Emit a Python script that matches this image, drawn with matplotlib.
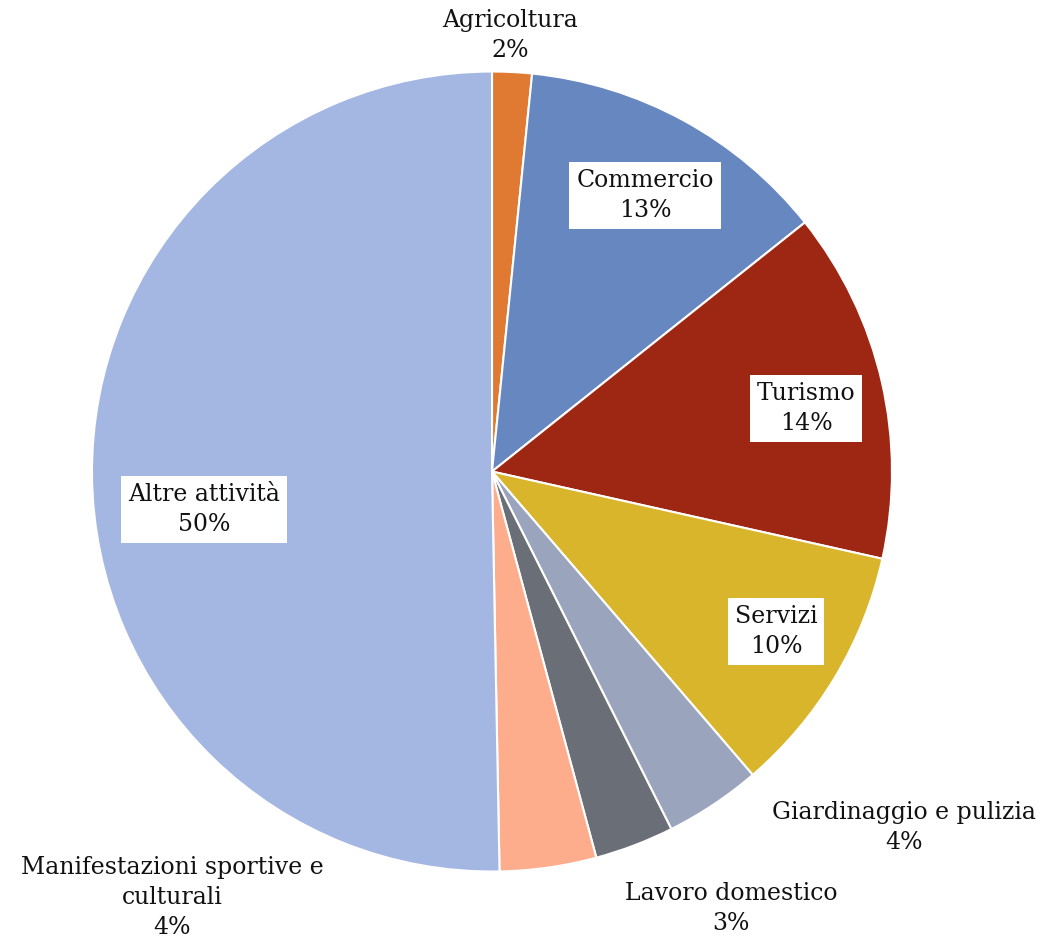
import matplotlib
matplotlib.use("Agg")
import matplotlib.pyplot as plt

# slice data, clockwise from 12 o'clock
categories = ["Agricoltura", "Commercio", "Turismo", "Servizi",
              "Giardinaggio e pulizia", "Lavoro domestico",
              "Manifestazioni sportive e\nculturali", "Altre attività"]
shares = [1.6, 12.7, 14.2, 10.2, 3.9, 3.2, 3.9, 50.3]
colors = ["#E07A32", "#6787C0", "#9E2714", "#D9B52B",
          "#9BA4BD", "#6A6E76", "#FDAD8C", "#A4B6E2"]

# label anchor points (data units, pie radius = 1) and whether boxed
label_pos = [(0.045, 1.09), (0.383, 0.69), (0.785, 0.158), (0.71, -0.40),
             (1.03, -0.89), (0.5975, -1.0925), (-0.80, -1.065), (-0.72, -0.095)]
boxed = [False, True, True, True, False, False, False, True]

plt.rcParams["font.family"] = ["DejaVu Serif"]

fig = plt.figure(figsize=(10.43, 9.42), dpi=100)
ax = fig.add_axes([0, 0, 1, 1])
ax.pie(shares, colors=colors, startangle=90, counterclock=False,
       radius=1.0, wedgeprops=dict(edgecolor="white", linewidth=1.5))
ax.set_xlim(-1.23, 1.3775)
ax.set_ylim(-1.1762, 1.1788)
ax.set_aspect("auto")
ax.axis("off")

total = sum(shares)
for cat, v, (x, y), b in zip(categories, shares, label_pos, boxed):
    txt = f"{cat}\n{v / total * 100:.0f}%"
    kw = {}
    if b:
        kw["bbox"] = dict(boxstyle="square,pad=0.3", fc="white", ec="none")
    ax.text(x, y, txt, ha="center", va="center", fontsize=17,
            linespacing=1.4, color="#111111", **kw)

fig.savefig("out.png", dpi=100)
